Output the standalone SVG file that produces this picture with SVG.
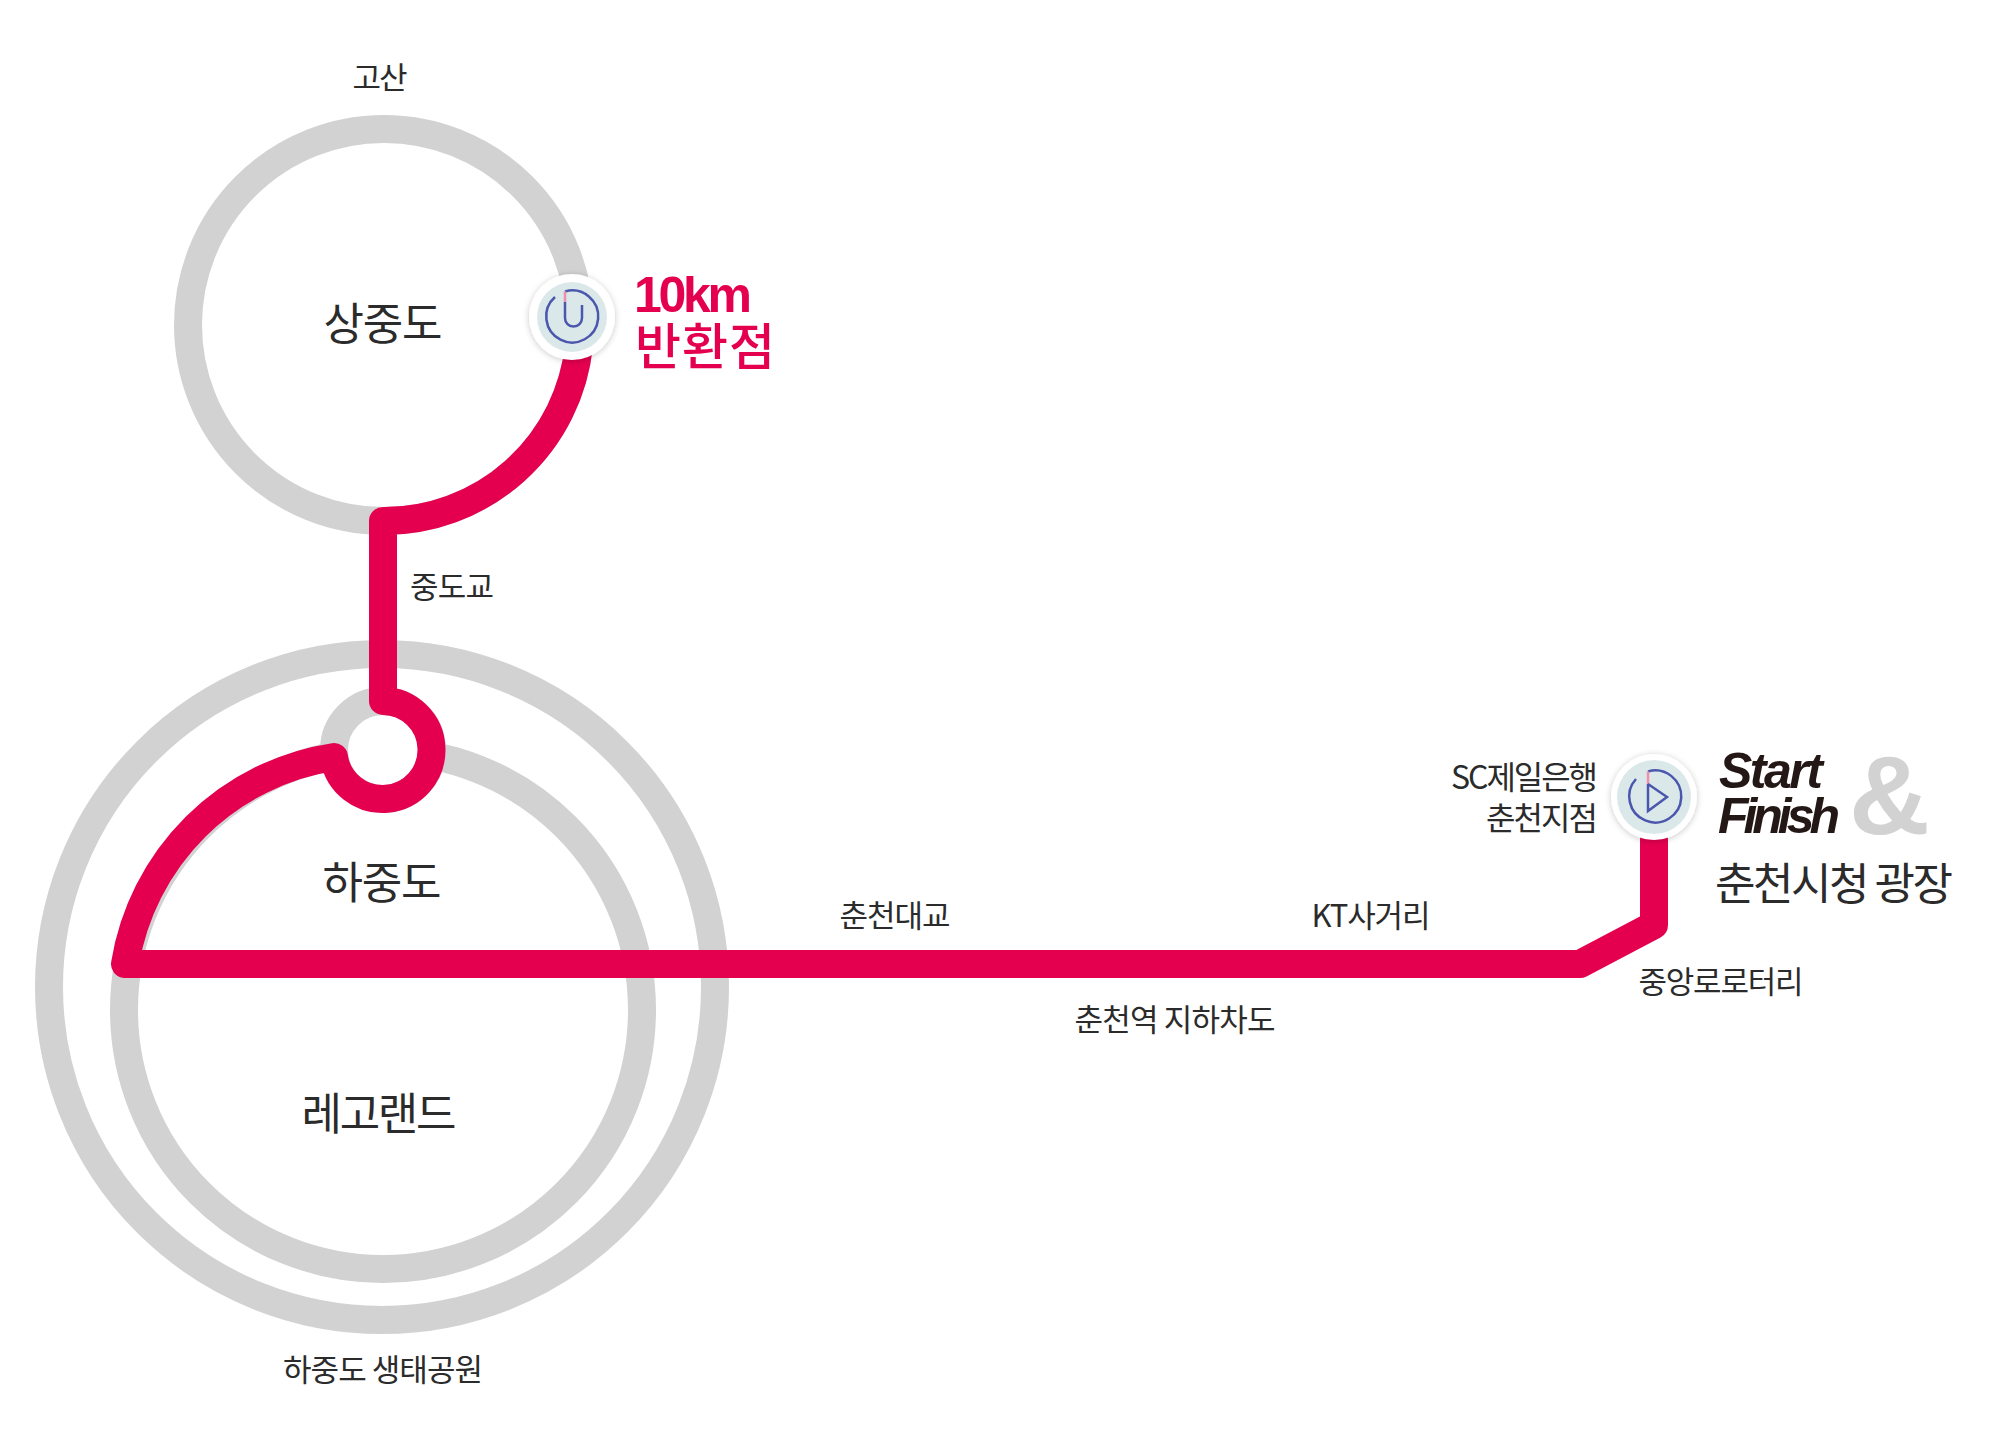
<svg xmlns="http://www.w3.org/2000/svg" width="2012" height="1442" viewBox="0 0 2012 1442">
<style>
.ring{fill:none;stroke:#d2d2d2;stroke-width:28}
.road{fill:none;stroke:#e4004f;stroke-width:28;stroke-linejoin:round;stroke-linecap:round}
text{font-family:"Noto Sans CJK KR","Noto Sans",sans-serif;fill:#2b2b2b}
.s{font-size:31px;text-anchor:middle}
.c{font-size:44px;text-anchor:middle}
.r{font-size:32px;text-anchor:end}
.red{fill:#e4004f;font-size:50px;font-weight:500}
.en{font-family:"Liberation Sans",sans-serif;font-weight:700;font-style:italic;font-size:50px;fill:#231815}
.disc{fill:#fff;filter:url(#sh)}
.in{fill:#dbe8e9}
.ic{fill:none;stroke:#4b57ad;stroke-width:2.5}
.pk{fill:none;stroke:#ee8fae;stroke-width:2.5}
</style>
<defs><filter id="sh" x="-30%" y="-30%" width="160%" height="160%"><feDropShadow dx="0" dy="1" stdDeviation="3" flood-color="#000" flood-opacity=".22"/></filter></defs>
<g id="rings">
<circle class="ring" cx="384" cy="325" r="196"/>
<circle class="ring" cx="382" cy="987" r="333"/>
<circle class="ring" cx="383" cy="1010" r="259"/>
<circle class="ring" cx="383" cy="750" r="49" style="fill:#fff"/>
</g>
<g id="connectors">
<path class="road" d="M579 345A196 196 0 0 1 383 521V701A49 49 0 1 1 334 757A250 250 0 0 0 125 964H1580L1654 925V840"/>
</g>
<g id="turn">
<circle class="disc" cx="572" cy="317" r="43"/>
<circle class="in" cx="572" cy="317" r="35"/>
<path class="ic" d="M555 297A26 26 0 1 0 565 291.500"/>
<path class="pk" d="M565 291.500V302"/>
<path class="ic" d="M565 302V318A8.500 8.500 0 0 0 582 318V305"/>
</g>
<g id="start">
<circle class="disc" cx="1654" cy="797" r="43"/>
<circle class="in" cx="1654" cy="797" r="37"/>
<path class="ic" d="M1636 779A26 26 0 1 0 1648 771.500"/>
<path class="pk" d="M1648 771.500V784"/>
<path class="ic" d="M1648 784V811L1667 797L1648 784"/>
</g>
<g id="labels">
<text class="s" x="380" y="89" textLength="55">고산</text>
<text class="c" x="383" y="340" textLength="119">상중도</text>
<text class="red"><tspan x="634" y="312" textLength="118" style="font-family:'Liberation Sans',sans-serif;font-weight:700">10km</tspan><tspan x="635" y="365" textLength="140">반환점</tspan></text>
<text class="s" x="452" y="598" textLength="84">중도교</text>
<text class="c" x="382" y="899" textLength="119">하중도</text>
<text class="c" x="379" y="1130" textLength="155">레고랜드</text>
<text class="s" x="383" y="1381" textLength="200">하중도 생태공원</text>
<text class="s" x="895" y="927" textLength="111">춘천대교</text>
<text class="s" x="1371" y="927" textLength="119">KT사거리</text>
<text class="s" x="1175" y="1031" textLength="201">춘천역 지하차도</text>
<text class="s" x="1721" y="993" textLength="165">중앙로로터리</text>
<text class="r"><tspan x="1598" y="789" textLength="147">SC제일은행</tspan><tspan x="1598" y="830" textLength="112">춘천지점</tspan></text>
<text class="en"><tspan x="1719" y="788" textLength="104">Start</tspan><tspan x="1718" y="833" textLength="122">Finish</tspan></text>
<text x="1849" y="834" style="font-family:'Liberation Sans',sans-serif;font-weight:700;font-size:112px;fill:#d2d2d2">&amp;</text>
<text x="1715" y="900" style="font-size:44px" textLength="238">춘천시청 광장</text>
</g>
</svg>
